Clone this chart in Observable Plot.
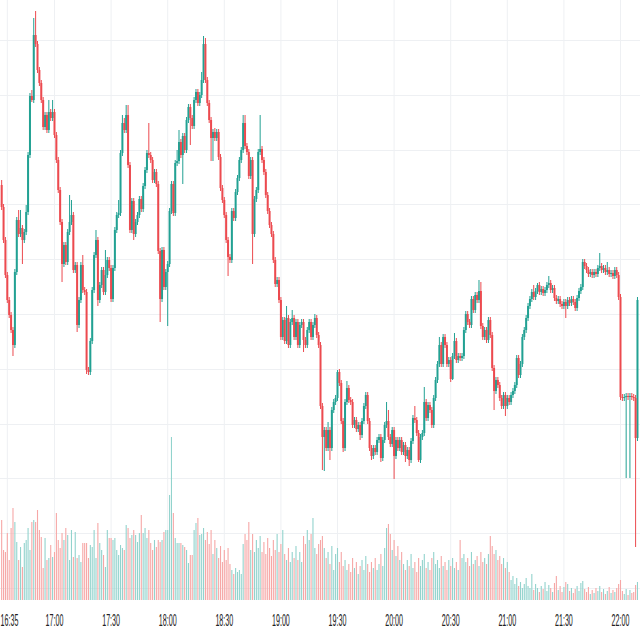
<!DOCTYPE html>
<html><head><meta charset="utf-8">
<script src="https://cdn.jsdelivr.net/npm/d3@7"></script>
<script src="https://cdn.jsdelivr.net/npm/@observablehq/plot@0.6"></script>
<style>
html,body{margin:0;padding:0;background:#fff;}
#chart{position:relative;width:640px;height:640px;overflow:hidden;background:#fff;}
#chart svg{position:absolute;left:0;top:0;}
</style></head><body><div id="chart"></div>
<script>
// 1-minute candles starting 16:32
const startHour = 16, startMinute = 32;
const open = [
815,793,760,725,700,685,670,655,728,780,766,772,760,768,788,845,904,900,965,956,
930,917,900,873,885,870,888,882,888,865,840,810,778,736,755,738,768,778,785,730,
735,675,700,735,710,708,630,628,659,710,745,760,700,715,730,708,725,740,732,701,
732,770,785,787,847,877,870,885,835,770,799,766,778,785,801,791,814,830,847,845,
840,820,828,816,749,701,750,713,728,736,789,816,787,837,839,858,845,864,850,880,
893,882,874,900,908,897,905,920,956,920,897,880,862,868,862,868,843,812,800,785,
760,743,740,789,782,808,822,840,850,877,854,848,824,840,766,801,810,848,851,840,
828,805,789,775,766,740,716,720,700,663,680,659,682,655,678,682,663,678,655,675,
678,660,655,670,678,663,675,682,665,655,594,563,570,552,570,552,590,598,602,628,
617,579,552,598,612,600,598,575,580,571,575,565,579,594,605,579,552,544,552,548,
560,563,542,560,575,579,563,556,570,544,560,552,560,548,555,544,550,540,559,582,
580,567,540,563,567,598,582,595,590,575,602,620,636,655,636,663,655,636,640,621,
644,659,640,644,642,644,670,686,678,675,701,690,705,700,709,674,663,670,660,680,
665,632,609,620,615,602,594,605,594,602,598,605,609,615,642,625,636,663,670,682,
694,701,708,703,709,715,708,711,707,710,715,717,710,712,702,699,701,696,694,698,
694,700,697,701,698,692,702,709,713,738,734,730,726,728,725,728,726,732,734,730,
732,728,730,726,727,724,730,725,703,603,602,603,604,603,604,603,602,562];
const high = [
820,796,763,728,703,688,673,731,783,790,790,775,771,795,848,907,910,982,989,959,
933,920,903,888,888,900,891,900,891,868,843,813,781,758,758,771,805,800,788,738,
738,703,738,745,713,711,633,662,713,748,770,763,718,733,733,750,743,743,735,735,
773,788,800,850,885,882,895,895,838,802,802,781,788,804,804,817,833,850,877,848,
843,831,831,819,752,753,753,731,739,792,819,819,840,850,870,861,867,867,883,896,
896,885,903,911,911,908,928,964,962,923,900,883,871,872,871,871,846,815,803,788,
763,746,792,792,811,825,843,853,885,885,857,851,843,843,804,813,851,885,854,843,
831,808,792,778,769,743,723,723,703,683,683,694,685,681,690,685,681,681,678,681,
681,663,673,681,681,678,686,685,668,658,597,573,573,578,573,593,601,605,630,631,
620,582,601,619,615,603,601,583,583,578,578,582,597,608,608,582,555,555,555,563,
566,566,563,578,598,590,566,573,573,563,563,563,563,558,558,553,553,562,585,594,
583,570,566,570,613,601,598,598,593,605,623,639,663,658,666,666,658,643,643,647,
667,662,647,647,647,673,689,689,681,704,704,708,708,720,718,677,673,673,683,683,
668,635,623,623,618,605,608,608,605,605,608,612,618,645,645,639,666,673,685,697,
704,711,715,712,717,718,714,714,713,718,724,720,715,715,705,704,704,699,701,701,
703,703,704,704,701,705,712,716,741,741,737,733,731,731,731,731,735,747,737,735,
735,738,733,730,730,733,733,728,706,606,606,607,607,607,607,606,605,703];
const low = [
790,757,722,697,682,667,644,652,725,763,763,736,757,765,785,842,898,897,953,927,
914,897,870,870,867,867,879,879,862,837,807,775,718,733,735,735,765,775,727,727,
668,672,697,707,705,626,625,625,656,707,742,694,697,712,705,705,722,729,698,698,
729,767,782,784,844,867,867,832,767,767,760,763,775,782,788,788,811,827,842,837,
817,817,813,746,678,698,710,710,674,733,786,784,784,834,836,842,816,847,847,877,
855,871,871,897,894,894,902,917,917,894,877,839,839,859,859,840,809,797,782,757,
724,737,737,779,779,805,819,837,847,851,845,821,821,736,763,798,807,845,837,825,
802,786,772,763,737,713,713,697,660,660,656,656,652,652,675,660,660,652,652,672,
648,652,652,667,660,660,672,662,652,591,530,529,549,549,540,549,587,595,599,614,
576,548,549,595,597,595,572,572,568,568,560,562,576,591,576,549,540,541,545,545,
557,538,539,557,572,560,553,553,521,541,549,549,545,545,538,541,534,537,556,577,
564,538,537,560,564,579,579,587,572,572,599,617,633,633,633,652,633,633,618,620,
641,637,637,639,639,641,667,675,672,672,687,687,697,697,671,660,660,657,657,662,
629,590,606,612,599,591,591,584,591,595,595,602,606,612,622,622,633,660,667,679,
691,698,700,700,706,705,705,704,704,707,712,707,707,699,696,696,693,691,691,682,
691,694,694,695,689,689,699,706,710,731,727,723,723,722,722,723,723,729,727,727,
725,725,723,723,721,721,722,700,600,599,599,522,600,522,600,599,453,559];
const close = [
793,760,725,700,685,670,655,728,780,766,772,760,768,788,845,904,900,965,956,930,
917,900,873,885,870,888,882,888,865,840,810,778,736,755,738,768,778,785,730,735,
675,700,735,710,708,630,628,659,710,745,760,700,715,730,708,725,740,732,701,732,
770,785,787,847,877,870,885,835,770,799,766,778,785,801,791,814,830,847,845,840,
820,828,816,749,701,750,713,728,736,789,816,787,837,839,858,845,864,850,880,893,
882,874,900,908,897,905,920,956,920,897,880,862,868,862,868,843,812,800,785,760,
743,740,789,782,808,822,840,850,877,854,848,824,840,766,801,810,848,851,840,828,
805,789,775,766,740,716,720,700,663,680,659,682,655,678,682,663,678,655,675,678,
660,655,670,678,663,675,682,665,655,594,563,570,552,570,552,590,598,602,628,617,
579,552,598,612,600,598,575,580,571,575,565,579,594,605,579,552,544,552,548,560,
563,542,560,575,579,563,556,570,544,560,552,560,548,555,544,550,540,559,582,580,
567,540,563,567,598,582,595,590,575,602,620,636,655,636,663,655,636,640,621,644,
659,640,644,642,644,670,686,678,675,701,690,705,700,709,674,663,670,660,680,665,
632,609,620,615,602,594,605,594,602,598,605,609,615,642,625,636,663,670,682,694,
701,708,703,709,715,708,711,707,710,715,717,710,712,702,699,701,696,694,698,694,
700,697,701,698,692,702,709,713,738,734,730,726,728,725,728,726,732,734,730,732,
728,730,726,727,724,730,725,703,603,602,603,604,603,604,603,602,562,700];
const volume = [
400,250,240,335,200,360,460,390,290,200,265,165,285,300,360,250,390,400,390,450,
350,315,160,310,200,210,275,215,240,435,300,260,335,300,360,325,200,350,215,340,
210,225,190,285,285,285,210,275,265,350,210,385,285,250,225,165,350,310,310,300,
310,250,225,275,260,250,375,360,310,325,350,325,290,335,425,335,360,310,350,285,
250,300,265,300,290,300,340,350,350,525,815,435,310,285,285,285,275,265,250,185,
225,225,350,385,410,325,330,360,300,340,280,350,230,300,260,210,270,190,250,200,
260,180,150,130,160,140,150,130,280,330,300,390,250,330,240,300,260,320,240,290,
230,310,260,220,300,250,330,240,280,350,230,200,260,190,240,210,270,200,240,190,
320,280,350,300,330,410,260,230,280,300,320,260,210,240,180,270,150,230,260,190,
240,170,200,150,180,140,210,160,190,130,170,200,150,220,180,140,190,160,210,150,
180,230,170,260,360,380,330,250,300,220,270,200,240,180,150,200,170,230,160,190,
140,210,170,200,230,160,190,150,210,240,180,200,160,220,170,190,150,200,170,210,
160,190,150,300,210,230,190,210,170,240,180,200,220,170,240,190,210,180,230,320,
270,230,250,200,220,180,210,160,190,140,100,120,80,110,70,90,60,80,110,70,
60,130,50,80,60,40,70,55,90,45,75,60,40,85,120,50,70,40,65,90,
80,45,60,35,55,70,45,85,95,55,40,65,30,50,35,60,45,70,40,55,
30,45,65,35,50,40,60,80,100,45,30,55,25,50,35,40,75,90];
const tickLabels = ["16:35","17:00","17:30","18:00","18:30","19:00","19:30","20:00","20:30","21:00","21:30","22:00"];
const gridPrices = [960,905,850,796,741,686,631,576,522,467,412];

const upColor = "#22a193", downColor = "#ec4a4f";
const upVol = "#92d3cd", downVol = "#f6a7a6";
const day = (h, m, s = 0) => new Date(Date.UTC(2024, 0, 2, h, m, s));
const rows = close.map((c, i) => ({
  t: day(startHour, startMinute + i), o: open[i], h: high[i], l: low[i], c, v: volume[i], up: c >= open[i]
}));
const tickTimes = tickLabels.map(s => { const [h, m] = s.split(":").map(Number); return day(h, m); });
const xDomain = [day(16, 31, 23), day(22, 10, 36)];
const up = rows.filter(d => d.up), down = rows.filter(d => !d.up);

const common = {
  width: 640, height: 640, marginTop: 0, marginBottom: 40, marginLeft: 0, marginRight: 0,
  x: {type: "utc", domain: xDomain, axis: null},
  style: {background: "transparent", fontFamily: "Liberation Sans, sans-serif"}
};

const pricePlot = Plot.plot({
  ...common,
  y: {domain: [400, 1000], axis: null},
  marks: [
    Plot.ruleY(gridPrices, {stroke: "#eef0f3", strokeWidth: 1}),
    Plot.ruleX(tickTimes, {stroke: "#eef0f3", strokeWidth: 1}),
    Plot.ruleX(up, {x: "t", y1: "l", y2: "h", stroke: upColor, strokeWidth: 1}),
    Plot.ruleX(down, {x: "t", y1: "l", y2: "h", stroke: downColor, strokeWidth: 1}),
    Plot.ruleX(up, {x: "t", y1: "o", y2: "c", stroke: upColor, strokeWidth: 2}),
    Plot.ruleX(down, {x: "t", y1: "o", y2: "c", stroke: downColor, strokeWidth: 2}),
    Plot.axisX({ticks: tickTimes, tickFormat: d3.utcFormat("%H:%M"), tickSize: 0, tickPadding: 13,
      fontSize: 17, fill: "#222", label: null})
  ]
});

const volumePlot = Plot.plot({
  ...common,
  y: {domain: [0, 3000], axis: null},
  marks: [
    Plot.ruleX(up, {x: "t", y: "v", stroke: upVol, strokeWidth: 1.1}),
    Plot.ruleX(down, {x: "t", y: "v", stroke: downVol, strokeWidth: 1.1})
  ]
});

// condensed look of the tick labels; keep the first label inside the left edge
d3.select(pricePlot).selectAll('g[aria-label="x-axis tick label"] text').each(function(_, i) {
  const tr = this.getAttribute("transform") || "";
  const m = /translate\(([-\d.]+),\s*([-\d.]+)\)/.exec(tr);
  if (i === 0 && m) {
    this.setAttribute("transform", `translate(${Math.max(+m[1], 9)},${m[2]}) scale(0.42,1)`);
  } else {
    this.setAttribute("transform", tr + " scale(0.42,1)");
  }
});

const chart = document.getElementById("chart");
chart.appendChild(pricePlot);
chart.appendChild(volumePlot);
</script>
</body></html>
